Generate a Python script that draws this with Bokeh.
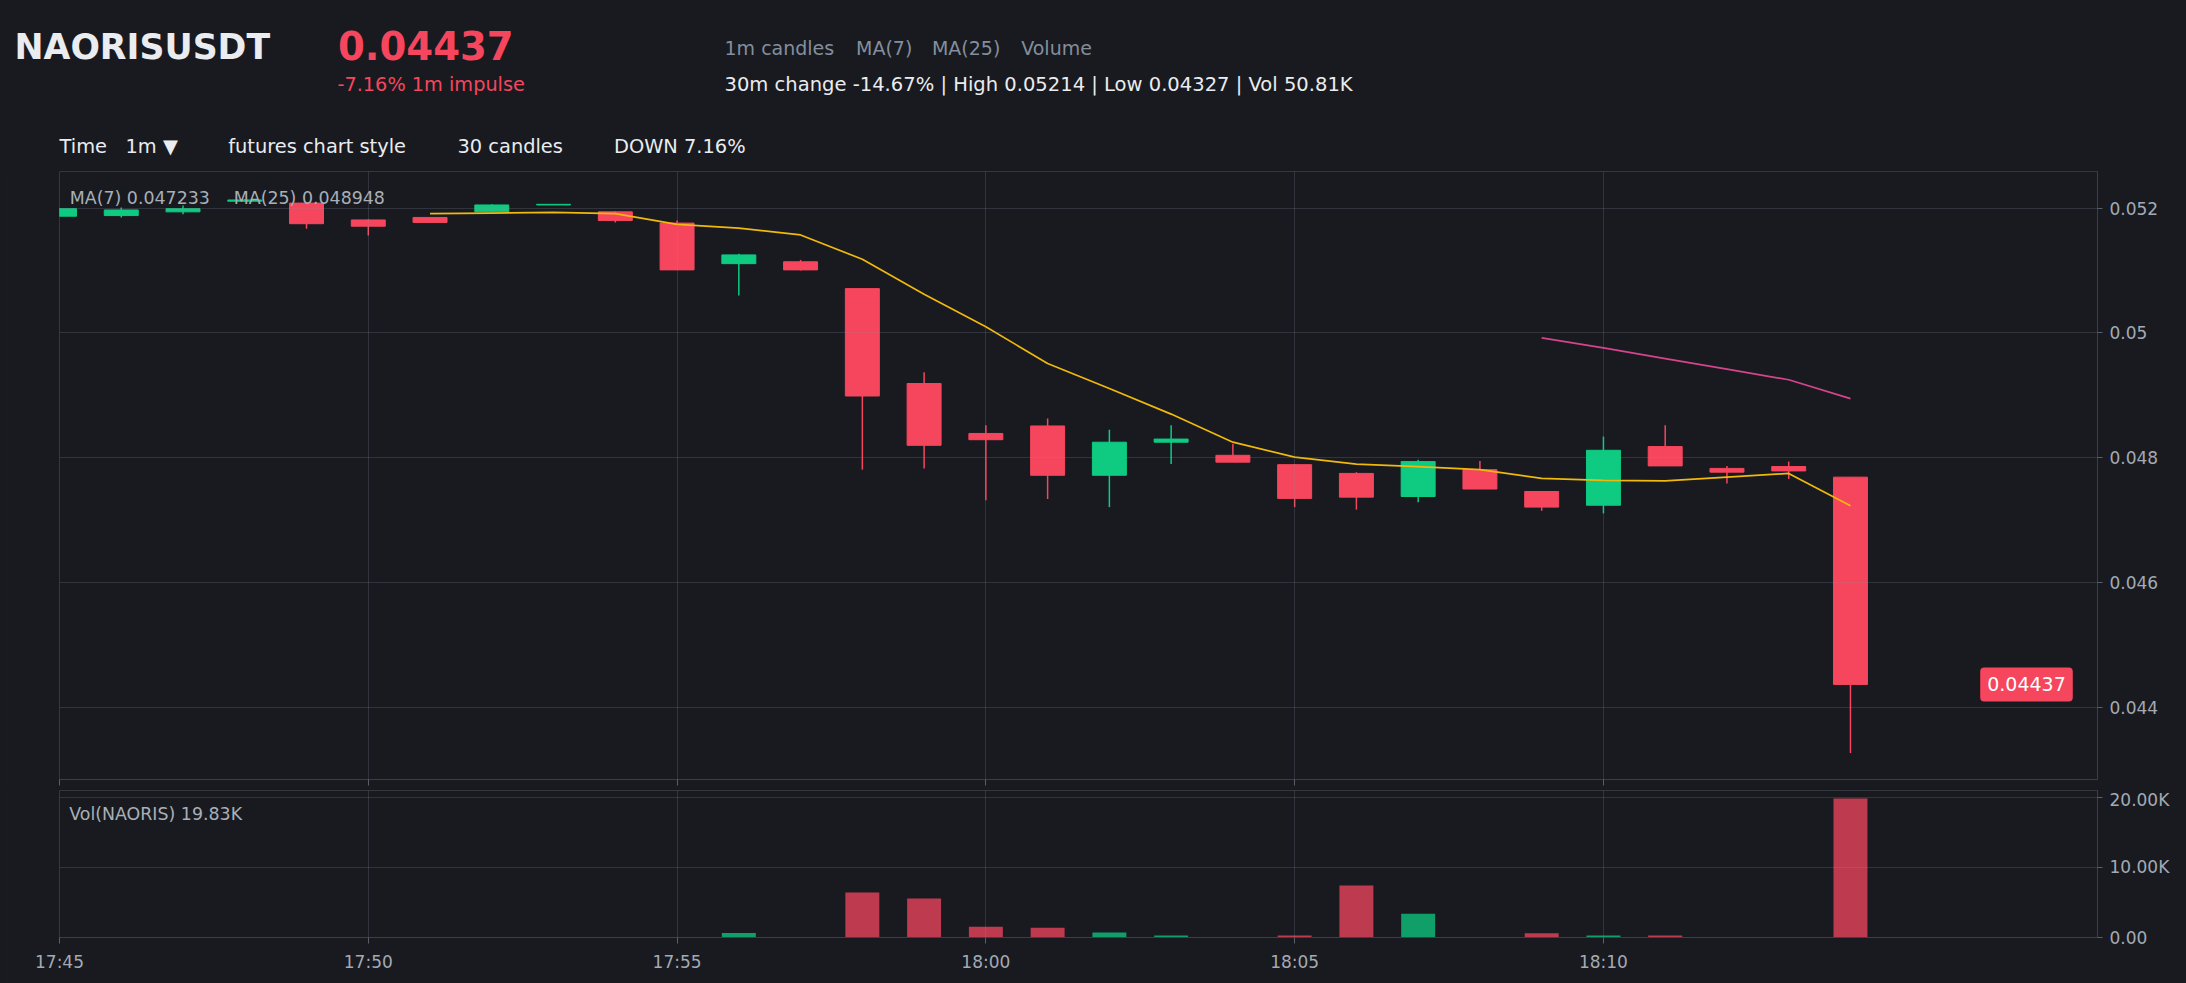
from bokeh.plotting import figure
from bokeh.models import Range1d, FixedTicker, Label, ColumnDataSource
from bokeh.layouts import column
from bokeh.embed import file_html
from bokeh.resources import INLINE
from bokeh.core.properties import value

# ---------------- data ----------------
times = ["17:45", "17:46", "17:47", "17:48", "17:49", "17:50", "17:51", "17:52", "17:53", "17:54",
         "17:55", "17:56", "17:57", "17:58", "17:59", "18:00", "18:01", "18:02", "18:03", "18:04",
         "18:05", "18:06", "18:07", "18:08", "18:09", "18:10", "18:11", "18:12", "18:13", "18:14"]

opens = [0.05187, 0.05188, 0.05194, 0.05211, 0.05208, 0.05181, 0.05185, 0.05194, 0.05205, 0.05194,
         0.05176, 0.05111, 0.05114, 0.05071, 0.04919, 0.04839, 0.04851, 0.04772, 0.04825, 0.04804,
         0.04789, 0.04775, 0.04738, 0.04781, 0.04746, 0.04724, 0.04818, 0.04783, 0.04786, 0.04769]
highs = [0.05200, 0.05201, 0.05204, 0.05214, 0.05209, 0.05182, 0.05185, 0.05206, 0.05206, 0.05195,
         0.05180, 0.05127, 0.05117, 0.05071, 0.04937, 0.04852, 0.04863, 0.04845, 0.04852, 0.04822,
         0.04790, 0.04777, 0.04797, 0.04795, 0.04746, 0.04834, 0.04852, 0.04787, 0.04794, 0.04769]
lows = [0.05186, 0.05185, 0.05190, 0.05210, 0.05167, 0.05156, 0.05177, 0.05194, 0.05205, 0.05177,
        0.05101, 0.05060, 0.05100, 0.04781, 0.04783, 0.04732, 0.04734, 0.04721, 0.04790, 0.04793,
        0.04721, 0.04717, 0.04729, 0.04750, 0.04715, 0.04711, 0.04787, 0.04759, 0.04766, 0.04327]
closes = [0.05199, 0.05197, 0.05199, 0.05213, 0.05175, 0.05171, 0.05177, 0.05205, 0.05206, 0.05180,
          0.05101, 0.05125, 0.05101, 0.04899, 0.04820, 0.04829, 0.04772, 0.04825, 0.04830, 0.04793,
          0.04735, 0.04737, 0.04794, 0.04750, 0.04721, 0.04812, 0.04787, 0.04777, 0.04779, 0.04437]
volumes = [30, 40, 20, 10, 40, 20, 10, 10, 10, 30,
           40, 650, 20, 6400, 5550, 1550, 1400, 700, 300, 60,
           300, 7400, 3400, 50, 600, 300, 300, 40, 50, 19830]

# moving averages as drawn (MA7 from 17:51, MA25 from 18:09)
ma7_start = 6
ma7 = [0.05191, 0.05192, 0.05193, 0.05191, 0.05174, 0.05168, 0.05157, 0.05118, 0.05062, 0.05010,
       0.04951, 0.04911, 0.04870, 0.04825, 0.04801, 0.04790, 0.04786, 0.04781, 0.04767, 0.04764,
       0.04763, 0.04769, 0.04775, 0.047233]
ma25_start = 24
ma25 = [0.04992, 0.04976, 0.04959, 0.04942, 0.04925, 0.048948]

price_ticks = [0.044, 0.046, 0.048, 0.05, 0.052]
price_tick_labels = ["0.044", "0.046", "0.048", "0.05", "0.052"]
vol_ticks = [0, 10000, 20000]
vol_tick_labels = ["0.00", "10.00K", "20.00K"]

symbol = "NAORISUSDT"
last_price_text = "0.04437"
last_price = 0.04437
impulse_text = "-7.16% 1m impulse"
legend_items = ["1m candles", "MA(7)", "MA(25)", "Volume"]
stats_text = "30m change -14.67% | High 0.05214 | Low 0.04327 | Vol 50.81K"
toolbar_items = ["Time", "1m \u25bc", "futures chart style", "30 candles", "DOWN 7.16%"]
ma7_label = "MA(7) 0.047233"
ma25_label = "MA(25) 0.048948"
vol_label = "Vol(NAORIS) 19.83K"

# ---------------- style / layout ----------------
FONT = "DejaVu Sans"
BG = "#181a20"
UP = "#0ecb81"
DN = "#f6465d"
MA7_C = "#f0b90b"
MA25_C = "#d6448c"
GRID_C = "#8b929e"
AXIS_C = "#3b3f47"
TICK_C = "#5a5f67"
LABEL_C = "#a4aab3"
LEGEND_C = "#a9afb7"
WHITE = "#eaecef"
GRAY = "#848e9c"

W = 2186
HDR_H = 170
L, R = 59, 89
X_MAX = 33.0
PX_PER_MIN = (W - L - R) / X_MAX

P_TOP, P_BOT = 0.052586, 0.042847
MAIN_TOP, MAIN_BOT = 171, 779          # page pixels of the price frame
MAIN_END = 789                          # page pixel where the price figure ends
V_TOP_VAL = 20955
VOL_TOP, VOL_BOT = 790, 937


def px_to_x(px):
    return (px - L) / PX_PER_MIN


def py_to_price(py):
    return P_TOP - (py - MAIN_TOP) * (P_TOP - P_BOT) / (MAIN_BOT - MAIN_TOP)


def py_to_vol(py):
    return (VOL_BOT - py) * V_TOP_VAL / (VOL_BOT - VOL_TOP)


x_idx = list(range(len(times)))
tick_idx = [i for i, t in enumerate(times) if int(t[-1]) % 5 == 0]
colors = [UP if c >= o else DN for o, c in zip(opens, closes)]
src = ColumnDataSource(dict(
    x=x_idx, high=highs, low=lows,
    top=[max(o, c) for o, c in zip(opens, closes)],
    bottom=[min(o, c) for o, c in zip(opens, closes)],
    color=colors, vol=volumes))

# ---------------- header (own root, page-pixel coordinates) ----------------
hdr = figure(width=W, height=HDR_H, x_range=Range1d(0, W), y_range=Range1d(HDR_H, 0),
             output_backend="svg", toolbar_location=None, min_border=0,
             min_border_left=0, min_border_right=0, min_border_top=0, min_border_bottom=0,
             x_axis_location=None, y_axis_location=None,
             background_fill_color=BG, border_fill_color=BG, outline_line_color=None,
             styles={"background-color": BG})
hdr.grid.visible = False


def htext(x, y, txt, size, color, bold=False):
    # y is the visual centre of the line (page pixels)
    hdr.text(x=[x], y=[y], text=[txt], text_font=value(FONT), text_font_size=size,
             text_color=color, text_font_style="bold" if bold else "normal",
             text_baseline="alphabetic", text_align="left")


htext(14, 46, symbol, "34.7px", WHITE, True)
htext(337.5, 44.5, last_price_text, "38.6px", DN, True)
htext(337, 83.5, impulse_text, "19.3px", DN)
for xx, t in zip([724, 855.5, 931.4, 1020.7], legend_items):
    htext(xx, 47.2, t, "19px", GRAY)
htext(724, 84, stats_text, "19.55px", WHITE)
for xx, t in zip([59, 125, 227.7, 457, 613.5], toolbar_items):
    htext(xx, 145.7, t, "19.4px", WHITE)

# ---------------- main price chart ----------------
p = figure(width=W, height=MAIN_END - HDR_H, x_range=Range1d(0, X_MAX), y_range=Range1d(P_BOT, P_TOP),
           y_axis_location="right", output_backend="svg", toolbar_location=None,
           min_border_left=L, min_border_right=R, min_border_top=MAIN_TOP - HDR_H,
           min_border_bottom=MAIN_END - MAIN_BOT,
           background_fill_color=BG, border_fill_color=BG, outline_line_color="#33373e",
           styles={"background-color": BG})

p.segment(x0="x", y0="low", x1="x", y1="high", line_color="color", line_width=1.5, source=src)
p.vbar(x="x", width=0.55, top="top", bottom="bottom", fill_color="color", line_color="color",
       line_width=1, source=src)
p.line(x_idx[ma7_start:], ma7, line_color=MA7_C, line_width=1.7)
p.line(x_idx[ma25_start:], ma25, line_color=MA25_C, line_width=1.7)

p.xaxis.ticker = FixedTicker(ticks=tick_idx)
p.xaxis.major_label_overrides = {i: "" for i in tick_idx}
p.xaxis.major_label_text_font_size = "0px"
p.xaxis.major_label_standoff = 0
p.xaxis.major_tick_out = 6
p.xaxis.major_tick_in = 0
p.xaxis.minor_tick_line_color = None
p.xaxis.axis_line_color = AXIS_C
p.xaxis.major_tick_line_color = TICK_C

p.yaxis.ticker = FixedTicker(ticks=price_ticks)
p.yaxis.major_label_overrides = dict(zip(price_ticks, price_tick_labels))
p.yaxis.major_label_text_font = FONT
p.yaxis.major_label_text_font_size = "17px"
p.yaxis.major_label_text_color = LABEL_C
p.yaxis.major_label_standoff = 7
p.yaxis.major_tick_out = 5
p.yaxis.major_tick_in = 0
p.yaxis.minor_tick_line_color = None
p.yaxis.axis_line_color = AXIS_C
p.yaxis.major_tick_line_color = TICK_C

p.xgrid.ticker = FixedTicker(ticks=tick_idx)
p.ygrid.ticker = FixedTicker(ticks=price_ticks)
for g in (p.xgrid, p.ygrid):
    g.grid_line_color = GRID_C
    g.grid_line_alpha = 0.22
    g.level = "overlay"


def label(fig, px, py, txt, size, color, yconv=py_to_price):
    fig.add_layout(Label(x=px_to_x(px), y=yconv(py), text=txt, text_font=FONT,
                         text_font_size=size, text_color=color,
                         text_baseline="alphabetic", text_align="left"))


label(p, 69.3, 197.7, ma7_label, "17.4px", LEGEND_C)
label(p, 233.3, 197.7, ma25_label, "17.4px", LEGEND_C)

p.add_layout(Label(x=px_to_x(2026), y=last_price, text=last_price_text, text_font=FONT,
                   text_font_size="19px", text_color="#ffffff", text_align="center",
                   text_baseline="middle", background_fill_color=DN, border_radius=4,
                   padding=(7, 10)))

# ---------------- volume chart ----------------
v = figure(width=W, height=983 - MAIN_END, x_range=p.x_range, y_range=Range1d(0, V_TOP_VAL),
           y_axis_location="right", output_backend="svg", toolbar_location=None,
           min_border_left=L, min_border_right=R, min_border_top=VOL_TOP - MAIN_END,
           min_border_bottom=983 - VOL_BOT,
           background_fill_color=BG, border_fill_color=BG, outline_line_color="#33373e",
           styles={"background-color": BG})
v.vbar(x="x", width=0.55, top="vol", bottom=0, fill_color="color", fill_alpha=0.75,
       line_color=None, source=src)

v.xaxis.ticker = FixedTicker(ticks=tick_idx)
v.xaxis.major_label_overrides = {i: times[i] for i in tick_idx}
v.xaxis.major_label_text_font = FONT
v.xaxis.major_label_text_font_size = "17px"
v.xaxis.major_label_text_color = LABEL_C
v.xaxis.major_label_standoff = 8
v.xaxis.major_tick_out = 6
v.xaxis.major_tick_in = 0
v.xaxis.minor_tick_line_color = None
v.xaxis.axis_line_color = AXIS_C
v.xaxis.major_tick_line_color = TICK_C

v.yaxis.ticker = FixedTicker(ticks=vol_ticks)
v.yaxis.major_label_overrides = dict(zip(vol_ticks, vol_tick_labels))
v.yaxis.major_label_text_font = FONT
v.yaxis.major_label_text_font_size = "17px"
v.yaxis.major_label_text_color = LABEL_C
v.yaxis.major_label_standoff = 7
v.yaxis.major_tick_out = 5
v.yaxis.major_tick_in = 0
v.yaxis.minor_tick_line_color = None
v.yaxis.axis_line_color = AXIS_C
v.yaxis.major_tick_line_color = TICK_C

v.xgrid.ticker = FixedTicker(ticks=tick_idx)
v.ygrid.ticker = FixedTicker(ticks=vol_ticks)
for g in (v.xgrid, v.ygrid):
    g.grid_line_color = GRID_C
    g.grid_line_alpha = 0.22
    g.level = "overlay"

label(v, 68.7, 813.7, vol_label, "17.4px", LEGEND_C, yconv=py_to_vol)

charts = column(p, v, spacing=0, styles={"background-color": BG})
open("out.html", "w").write(file_html([hdr, charts], INLINE))
